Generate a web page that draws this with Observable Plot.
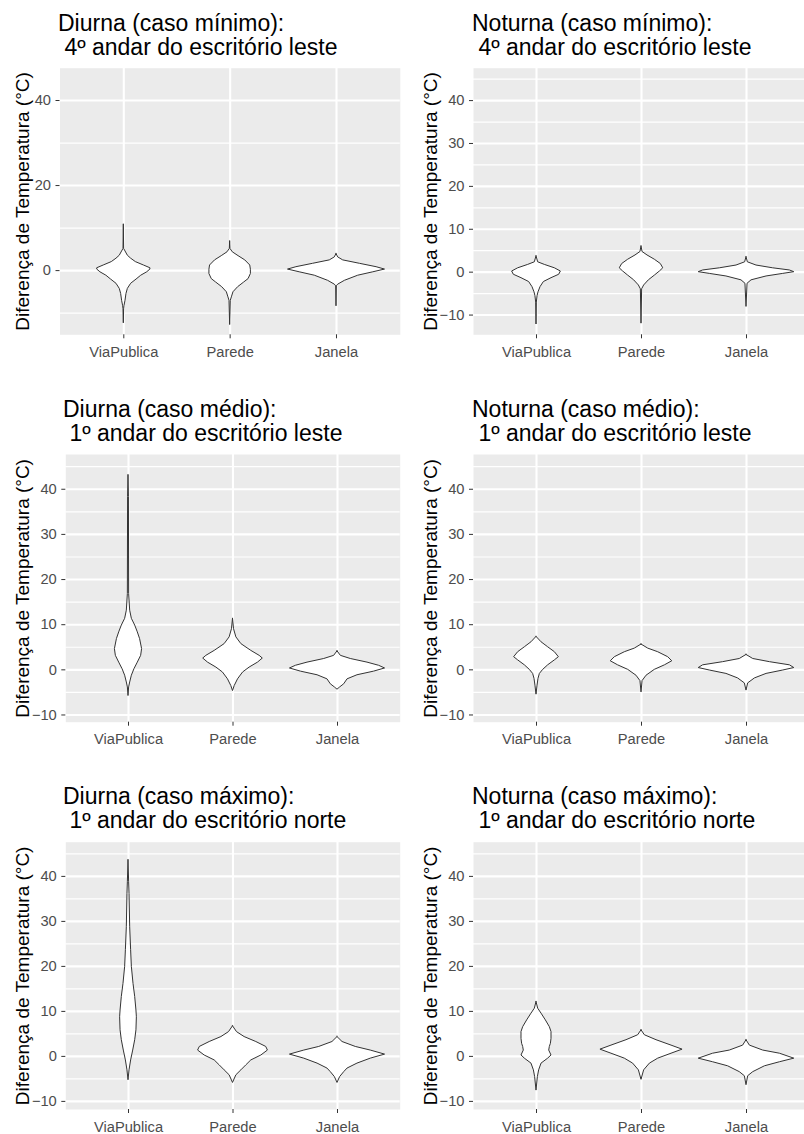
<!DOCTYPE html>
<html><head><meta charset="utf-8">
<script src="https://cdn.jsdelivr.net/npm/d3@7"></script>
<script src="https://cdn.jsdelivr.net/npm/@observablehq/plot@0.6"></script>
<style>
html,body{margin:0;padding:0;background:#fff;overflow:hidden;width:804px;height:1134px;}
#root{position:relative;width:804px;height:1134px;overflow:hidden;}
.title{position:absolute;font-family:"Liberation Sans",Arial,sans-serif;font-size:23px;line-height:24px;white-space:pre;color:#000;}
.panel{position:absolute;}
.panel svg{overflow:visible;max-width:none !important;}
g[aria-label="y-axis tick label"], g[aria-label="x-axis tick label"]{fill:#4D4D4D;}
</style>
</head><body><div id="root"></div>
<script>
// ---- data ----
const categories = ["ViaPublica", "Parede", "Janela"];
const titles = [
  "Diurna (caso mínimo):\n 4º andar do escritório leste",
  "Noturna (caso mínimo):\n 4º andar do escritório leste",
  "Diurna (caso médio):\n 1º andar do escritório leste",
  "Noturna (caso médio):\n 1º andar do escritório leste",
  "Diurna (caso máximo):\n 1º andar do escritório norte",
  "Noturna (caso máximo):\n 1º andar do escritório norte"
];
const yLabel = "Diferença de Temperatura (°C)";
const yMajorA = [0, 20, 40];
const yMinorA = [-10, 10, 30];
const yMajorB = [-10, 0, 10, 20, 30, 40];
const yMinorB = [-5, 5, 15, 25, 35, 45];

// violin outlines: [temperature difference, half-width (density, in category units)]
const dMinVia = [[10.8,0],[5.1,0.003],[4.5,0.016],[3.5,0.038],[2.8,0.069],[2.0,0.113],[1.2,0.189],[0.55,0.25],[0.24,0.25],[-0.4,0.22],[-1.2,0.164],[-2.1,0.12],[-3.1,0.069],[-4.3,0.038],[-5.5,0.025],[-7.1,0.016],[-8.4,0.006],[-9.1,0.003],[-12.4,0]];
const dMinParede = [[6.85,0],[5.1,0.003],[4.3,0.025],[3.4,0.079],[2.4,0.142],[1.2,0.189],[0.2,0.195],[-0.8,0.195],[-2.0,0.173],[-2.8,0.132],[-3.9,0.075],[-5.1,0.031],[-6.3,0.016],[-7.1,0.006],[-12.8,0]];
const dMinJanela = [[3.9,0],[3.1,0.016],[2.4,0.063],[1.6,0.22],[0.8,0.377],[0.24,0.456],[-0.4,0.346],[-1.2,0.204],[-2.4,0.079],[-3.3,0.016],[-3.7,0.003],[-8.4,0]];

const nMinVia = [[3.7,0],[2.3,0.016],[1.7,0.079],[0.9,0.175],[0.15,0.232],[-0.6,0.216],[-1.4,0.143],[-2.3,0.07],[-3.5,0.038],[-4.7,0.019],[-5.6,0.01],[-7.1,0.003],[-12.2,0]];
const nMinParede = [[6.0,0],[4.7,0.01],[3.9,0.057],[2.9,0.127],[1.9,0.184],[0.9,0.207],[0.15,0.175],[-0.8,0.127],[-1.9,0.07],[-3.1,0.025],[-4.0,0.006],[-12.0,0]];
const nMinJanela = [[3.5,0],[2.3,0.013],[1.55,0.095],[0.9,0.254],[0.4,0.413],[0,0.455],[-0.4,0.35],[-1.0,0.191],[-1.9,0.048],[-2.7,0.01],[-8.1,0]];

const dMedVia = [[43.1,0],[38.3,0.004],[16.8,0.006],[13.1,0.016],[11.3,0.032],[9.8,0.064],[8.3,0.089],[6.8,0.111],[4.6,0.13],[3.1,0.121],[1.6,0.089],[0.15,0.057],[-1.3,0.032],[-2.8,0.016],[-3.9,0.006],[-5.8,0]];
const dMedParede = [[11.3,0],[9.0,0.01],[7.2,0.032],[5.7,0.08],[4.2,0.175],[3.1,0.255],[2.5,0.285],[1.6,0.239],[0.5,0.159],[-0.6,0.096],[-2.1,0.048],[-3.6,0.016],[-4.7,0]];
const dMedJanela = [[4.1,0],[3.1,0.032],[2.4,0.127],[1.6,0.287],[0.9,0.398],[0.3,0.455],[-0.4,0.35],[-1.2,0.191],[-2.1,0.096],[-3.2,0.064],[-3.9,0.025],[-4.4,0]];

const nMedVia = [[7.3,0],[6.1,0.048],[5.0,0.111],[3.9,0.175],[2.8,0.213],[2.1,0.175],[1.0,0.111],[0,0.064],[-0.9,0.032],[-2.0,0.019],[-3.5,0.01],[-5.5,0]];
const nMedParede = [[5.6,0],[4.7,0.064],[3.9,0.159],[2.8,0.254],[1.9,0.293],[1.0,0.223],[0,0.127],[-1.3,0.048],[-2.5,0.01],[-5.0,0]];
const nMedJanela = [[3.3,0],[2.4,0.064],[1.7,0.223],[1.0,0.413],[0.4,0.455],[-0.15,0.35],[-0.9,0.191],[-1.9,0.08],[-3.0,0.016],[-4.6,0]];

const dMaxVia = [[43.6,0],[38.7,0.006],[36.1,0.01],[28.7,0.016],[23.6,0.025],[19.9,0.032],[16.1,0.048],[13.2,0.064],[10.2,0.076],[8.7,0.08],[5.8,0.076],[3.6,0.064],[1.3,0.045],[-0.9,0.025],[-3.1,0.01],[-5.3,0]];
const dMaxParede = [[6.7,0],[5.4,0.038],[4.3,0.111],[3.2,0.223],[2.1,0.318],[1.3,0.334],[0.2,0.271],[-0.9,0.175],[-2.0,0.127],[-3.1,0.08],[-4.2,0.032],[-5.9,0]];
const dMaxJanela = [[4.3,0],[3.2,0.048],[2.1,0.175],[1.3,0.318],[0.4,0.455],[-0.5,0.318],[-1.6,0.191],[-2.7,0.096],[-3.5,0.064],[-4.6,0.025],[-5.9,0]];

const nMaxVia = [[12.1,0],[10.6,0.016],[9.5,0.048],[8.0,0.089],[6.5,0.127],[5.4,0.143],[3.9,0.143],[2.8,0.137],[2.1,0.127],[1.3,0.121],[0.2,0.143],[-0.5,0.111],[-1.6,0.048],[-3.1,0.025],[-4.6,0.013],[-7.6,0]];
const nMaxParede = [[5.8,0],[4.7,0.032],[3.6,0.143],[2.4,0.286],[1.5,0.391],[0.6,0.286],[-0.5,0.159],[-1.6,0.08],[-3.1,0.025],[-5.2,0]];
const nMaxJanela = [[3.6,0],[2.4,0.032],[1.3,0.159],[0.6,0.318],[-0.5,0.455],[-1.3,0.318],[-2.2,0.175],[-3.5,0.064],[-4.4,0.016],[-6.4,0]];

// ---- layout ----
const layout = [
  {left:0,   width:404, top:60,  height:305, ml:59.5, mr:4.2, mt:7.7, mb:30.7, tx:58,  ty:11,  labelX:22,    domain:[-15.1,47.6]},
  {left:404, width:410, top:60,  height:305, ml:69,   mr:5,   mt:7.7, mb:30.7, tx:472, ty:11,  labelX:430.5, domain:[-14.6,47.55]},
  {left:0,   width:404, top:447, height:305, ml:65.3, mr:4.3, mt:7,   mb:30.3, tx:63,  ty:397, labelX:22,    domain:[-11.6,47.7]},
  {left:404, width:410, top:447, height:305, ml:69,   mr:5,   mt:7,   mb:30.3, tx:472, ty:397, labelX:430.5, domain:[-11.6,47.7]},
  {left:0,   width:404, top:835, height:299, ml:65.3, mr:4.3, mt:6.7, mb:25,   tx:63,  ty:784, labelX:22,    domain:[-11.8,47.6]},
  {left:404, width:410, top:835, height:299, ml:69,   mr:5,   mt:6.7, mb:25,   tx:472, ty:784, labelX:430.5, domain:[-11.8,47.6]}
];
const panelViolins = [
  [dMinVia, dMinParede, dMinJanela],
  [nMinVia, nMinParede, nMinJanela],
  [dMedVia, dMedParede, dMedJanela],
  [nMedVia, nMedParede, nMedJanela],
  [dMaxVia, dMaxParede, dMaxJanela],
  [nMaxVia, nMaxParede, nMaxJanela]
];

const root = document.getElementById("root");
layout.forEach((L, i) => {
  const major = i === 0 ? yMajorA : yMajorB;
  const minor = i === 0 ? yMinorA : yMinorB;
  const rows = [];
  panelViolins[i].forEach((arr, c) => arr.forEach(([y, w]) => rows.push({cat: c + 1, y, w})));

  const plot = Plot.plot({
    width: L.width,
    height: L.height,
    marginLeft: L.ml, marginRight: L.mr, marginTop: L.mt, marginBottom: L.mb,
    style: {fontFamily: "'Liberation Sans', Arial, sans-serif", fontSize: "14.7px", color: "#333333", background: "transparent", overflow: "visible", maxWidth: "none"},
    x: {domain: [0.4, 3.6]},
    y: {domain: L.domain},
    marks: [
      Plot.frame({fill: "#EBEBEB", stroke: "none"}),
      Plot.ruleY(minor, {stroke: "white", strokeWidth: 1.2}),
      Plot.ruleY(major, {stroke: "white", strokeWidth: 2.1}),
      Plot.ruleX([1, 2, 3], {stroke: "white", strokeWidth: 2.1}),
      Plot.areaX(rows, {y: "y", x1: d => d.cat - d.w, x2: d => d.cat + d.w, z: "cat", fill: "white", stroke: "#333333", strokeWidth: 1, curve: "linear"}),
      Plot.axisY({ticks: major, tickSize: 4, tickPadding: 5, label: null, fontSize: 14.7}),
      Plot.axisX({ticks: [1, 2, 3], tickFormat: d => categories[d - 1], tickSize: 4, tickPadding: 7.7, label: null, fontSize: 14.7}),
      Plot.text([yLabel], {text: d => d, frameAnchor: "left", textAnchor: "middle", rotate: -90, dx: L.labelX - (L.left + L.ml), fontSize: 19, fill: "black"})
    ]
  });
  plot.style.maxWidth = "none";
  const wrap = document.createElement("div");
  wrap.className = "panel";
  wrap.style.left = L.left + "px";
  wrap.style.top = L.top + "px";
  wrap.style.width = L.width + "px";
  wrap.style.height = L.height + "px";
  wrap.appendChild(plot);
  root.appendChild(wrap);

  const t = document.createElement("div");
  t.className = "title";
  t.style.left = L.tx + "px";
  t.style.top = L.ty + "px";
  t.textContent = titles[i];
  root.appendChild(t);
});
</script>
</body></html>
